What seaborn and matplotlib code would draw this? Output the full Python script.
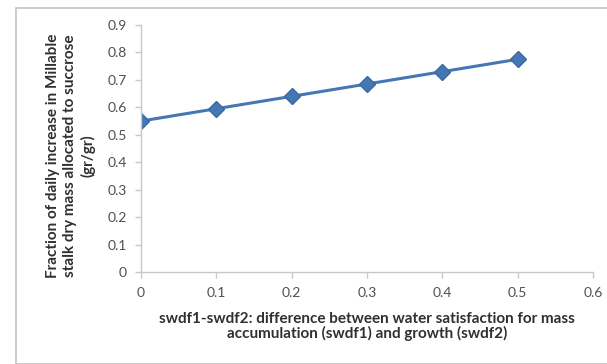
import matplotlib
matplotlib.use("Agg")
import matplotlib.pyplot as plt
import seaborn as sns
import pandas as pd
from matplotlib.patches import Rectangle

# Data
swdf_diff = [0.0, 0.1, 0.2, 0.3, 0.4, 0.5]
sucrose_fraction = [0.55, 0.595, 0.64, 0.685, 0.73, 0.775]
x_ticks = [0, 0.1, 0.2, 0.3, 0.4, 0.5, 0.6]
y_ticks = [0, 0.1, 0.2, 0.3, 0.4, 0.5, 0.6, 0.7, 0.8, 0.9]
x_tick_labels = ["0", "0.1", "0.2", "0.3", "0.4", "0.5", "0.6"]
y_tick_labels = ["0", "0.1", "0.2", "0.3", "0.4", "0.5", "0.6", "0.7", "0.8", "0.9"]

sns.set_theme(style="white")
plt.rcParams["font.family"] = ["Lato", "DejaVu Sans"]

df = pd.DataFrame({"x": swdf_diff, "y": sucrose_fraction})

fig = plt.figure(figsize=(6.07, 3.64), dpi=100)
ax = fig.add_axes([141 / 607, 1 - 272 / 364, (593 - 141) / 607, (272 - 25) / 364])

# chart-area frame
fig.patches.append(Rectangle((16 / 607, 0), 1, 1 - 8 / 364, transform=fig.transFigure,
                             fill=False, edgecolor="#c4c4c4", linewidth=1.2))

sns.lineplot(data=df, x="x", y="y", ax=ax, color="#4677b5", linewidth=2.2,
             marker="D", markersize=8, markeredgecolor="#3a68a2", markeredgewidth=1)

ax.set_xlim(0, 0.6)
ax.set_ylim(0, 0.9)
ax.set_xticks(x_ticks)
ax.set_xticklabels(x_tick_labels)
ax.set_yticks(y_ticks)
ax.set_yticklabels(y_tick_labels)

for side in ["top", "right"]:
    ax.spines[side].set_visible(False)
for side in ["left", "bottom"]:
    ax.spines[side].set_color("#c8c8c8")
    ax.spines[side].set_linewidth(1)

ax.tick_params(axis="both", which="major", direction="out", length=4, width=1,
               color="#c8c8c8", labelsize=10, labelcolor="#505050",
               bottom=True, left=True)
ax.tick_params(axis="x", pad=7)
ax.tick_params(axis="y", pad=6)

ax.set_xlabel("swdf1-swdf2: difference between water satisfaction for mass\naccumulation (swdf1) and growth (swdf2)",
              fontsize=11, fontweight="bold", color="#303030", linespacing=1.05,
              va="top", ha="center")
ax.xaxis.set_label_coords(0.5, -0.16)
ax.set_ylabel("Fraction of daily increase in Millable\nstalk dry mass allocated to succrose\n(gr/gr)",
              fontsize=11, fontweight="bold", color="#303030", linespacing=1.3,
              va="center", ha="center")
ax.yaxis.set_label_coords(-0.155, 0.47)

fig.savefig("out.png", dpi=100)
